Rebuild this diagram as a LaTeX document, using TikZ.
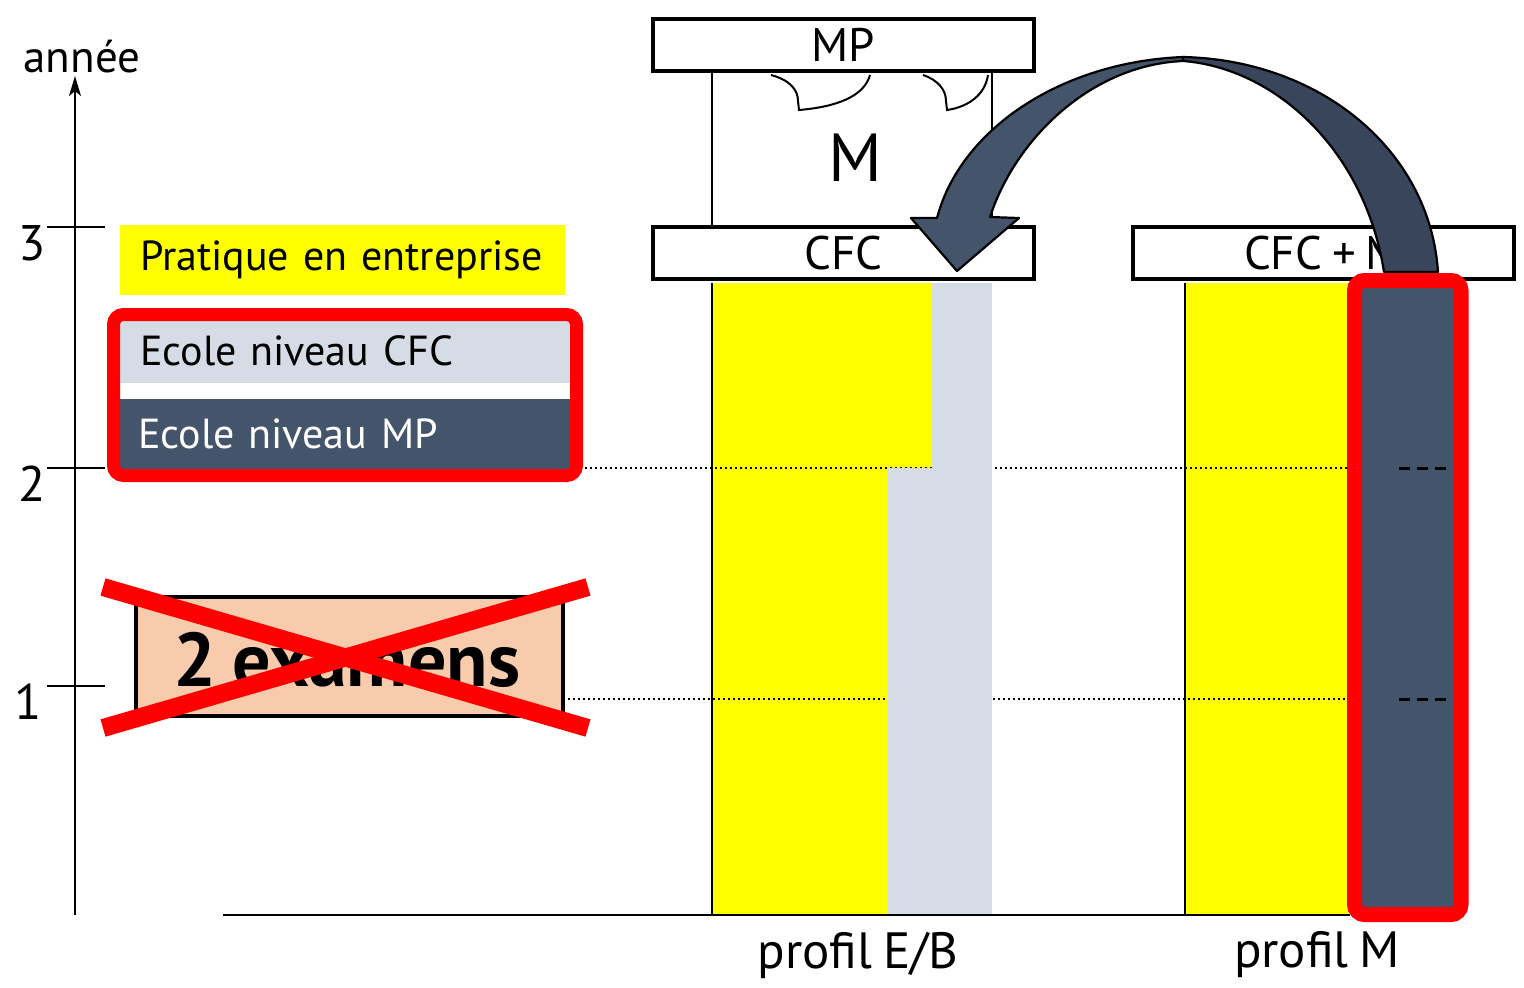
\documentclass[tikz,border=0pt]{standalone}
\usepackage{fontspec}
\setmainfont[WordSpace=0.8]{PT Sans}
\usetikzlibrary{arrows.meta}
\definecolor{cyel}{HTML}{FFFF00}
\definecolor{cgray}{HTML}{D6DCE5}
\definecolor{cdark}{HTML}{44546A}
\definecolor{cdarker}{HTML}{38455A}
\definecolor{cpeach}{HTML}{F8CBAD}
\definecolor{cred}{HTML}{FF0000}
\begin{document}
\begin{tikzpicture}[x=0.5pt,y=-0.5pt,
  hbox/.style={draw=black, line width=2.4pt, fill=white, inner sep=0pt,
    minimum width=190.5pt, minimum height=26pt, font=\fontsize{23.5}{26}\selectfont},
  thinline/.style={line width=1pt},
  dotline/.style={line width=1pt, dash pattern=on 1.2pt off 1.3pt},
  dashmark/.style={line width=1.5pt, dash pattern=on 5.5pt off 3.5pt},
  legendtxt/.style={inner sep=0pt, inner xsep=10pt, align=left, font=\fontsize{21}{24}\selectfont},
  numlbl/.style={inner sep=0pt, font=\fontsize{25}{28}\selectfont},
  arrowpart/.style={draw=black, line width=1.1pt, line join=round},
  crossline/.style={cred, line width=9pt}]
\useasboundingbox (0,0) rectangle (1524,987);

% axis
\coordinate (axbot) at (75,915);
\coordinate (axtop) at (75,76);
\draw[thinline, -{Stealth[length=10pt,width=6pt,inset=2.5pt]}] (axbot) -- (axtop);
\node[inner sep=0pt, font=\fontsize{22.5}{24}\selectfont] (annee) at (82,57) {année};
\foreach \yy/\lab/\lx in {227/3/32, 468/2/32, 686/1/28}{
  \draw[thinline] (47,\yy) -- (105,\yy);
  \node[numlbl] (n\lab) at (\lx,\yy+16) {\lab};
}

% legend
\node[legendtxt, fill=cyel, minimum width=222.5pt, minimum height=35pt, text width=202.5pt] (leg1) at (342.5,260) {Pratique en entreprise};
\node[legendtxt, fill=cgray, minimum width=225pt, minimum height=32pt, text width=205pt] (leg2) at (345,351) {Ecole niveau CFC};
\node[legendtxt, inner xsep=9pt, fill=cdark, text=white, minimum width=225pt, minimum height=35pt, text width=207pt] (leg3) at (345,434) {Ecole niveau MP};
\draw[cred, line width=6.5pt, rounded corners=5pt] (113.5,314.5) rectangle (576.5,475.5);

% 2 examens
\node[draw=black, line width=2.2pt, fill=cpeach, minimum width=213.5pt, minimum height=59.5pt, inner sep=0pt] (exam) at (349.5,656.5) {};
\node[inner sep=0pt, font=\bfseries\fontsize{38}{40}\selectfont] (examtxt) at (347,660) {2 examens};
\coordinate (x1a) at (103,587); \coordinate (x1b) at (588,728);
\coordinate (x2a) at (103,728); \coordinate (x2b) at (588,587);
\draw[crossline] (x1a) -- (x1b);
\draw[crossline] (x2a) -- (x2b);

% columns
\fill[cyel] (712,283) rectangle (932,915);
\fill[cyel] (1185,283) rectangle (1352,915);
\draw[thinline] (712,283) -- (712,915);
\draw[thinline] (1185,283) -- (1185,915);

% dotted guides
\draw[dotline] (585,468) -- (1350,468);
\draw[dotline] (568,699) -- (1350,699);

% gray school parts
\fill[cgray] (932,283) rectangle (992,468);
\fill[cgray] (888,468) rectangle (992,915);

% baseline
\draw[thinline] (223,915) -- (1350,915);

% M frame
\draw[thinline] (712,73) -- (712,225);
\draw[thinline] (992,73) -- (992,225);
\draw[thinline] (771,75) .. controls (790,80) and (798,90) .. (798,101) -- (799,110) .. controls (835,107) and (864,97) .. (870,75);
\draw[thinline] (923,75) .. controls (938,80) and (946,90) .. (946,101) -- (947,110) .. controls (968,107) and (985,95) .. (988,75);
\node[inner sep=0pt, font=\fontsize{34}{36}\selectfont] (Mtxt) at (855,158) {M};

% header boxes
\node[hbox] (mp) at (843.5,45) {MP};
\node[hbox] (cfc) at (843.5,253) {CFC};
\node[hbox] (cfcm) at (1323.5,253) {CFC + M};

% curved arrow
\path[arrowpart, fill=cdarker] (1183,57) .. controls (1320,60) and (1430,150) .. (1438,272) -- (1384,272) .. controls (1365,150) and (1275,68) .. (1183,61) -- cycle;
\path[arrowpart, fill=cdark] (957,271) -- (911,218) -- (937,218) .. controls (960,130) and (1060,62) .. (1183,57) -- (1183,61) .. controls (1090,65) and (1015,140) .. (990,217) -- (1019,218) -- cycle;

% profile M school column
\draw[cred, line width=7.5pt, rounded corners=5pt, fill=cdark] (1354.5,280.5) rectangle (1461,914.5);
\draw[dashmark] (1399,468) -- (1449,468);
\draw[dashmark] (1399,699) -- (1449,699);

% labels
\node[inner sep=0pt, font=\fontsize{25.5}{28}\selectfont] (pEB) at (858,955) {profil E/B};
\node[inner sep=0pt, font=\fontsize{25.5}{28}\selectfont] (pM) at (1317,955) {profil M};
\end{tikzpicture}
\end{document}
